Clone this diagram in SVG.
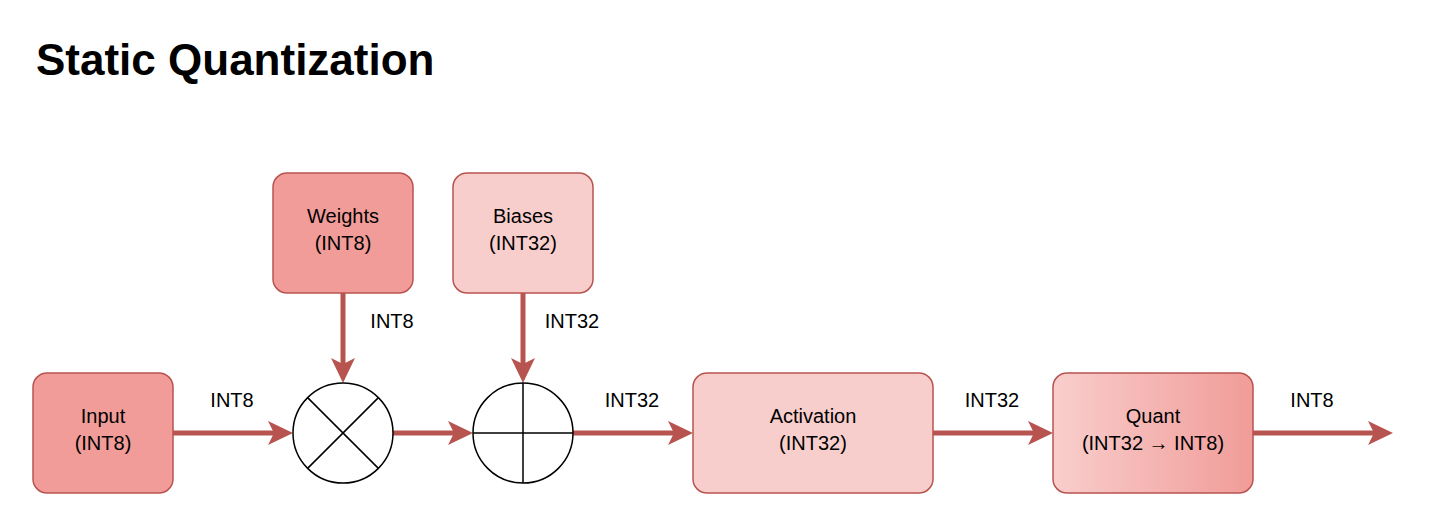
<svg xmlns="http://www.w3.org/2000/svg" width="1434" height="526" viewBox="0 0 1434 526">
<style>
text{font-family:"Liberation Sans",Arial,sans-serif;font-size:20px;fill:#000}
.box{stroke:#b85450;stroke-width:1.5}
.dark{fill:#f19c99}.light{fill:#f8cecc}
.edge{stroke:#b85450;stroke-width:5;fill:none}
.op{fill:#fff;stroke:#000;stroke-width:1.5}
</style>
<defs>
<marker id="ah" viewBox="0 0 10 10" refX="9" refY="5" markerWidth="5" markerHeight="5" markerUnits="userSpaceOnUse" orient="auto" style="overflow:visible">
<path d="M-2,-0.5 L22,5 L-2,10.5 L3,5 Z" fill="#b85450" transform="scale(1)"/>
</marker>
<linearGradient id="g" x1="0" x2="1" y1="0" y2="0"><stop offset="0" stop-color="#f8cecc"/><stop offset="1" stop-color="#f19c99"/></linearGradient>
</defs>
<text x="36" y="75" style="font-size:44px;font-weight:bold">Static Quantization</text>
<g id="connectors">
<path class="edge" d="M173,433 H276"/>
<path class="edge" d="M393,433 H456"/>
<path class="edge" d="M343,293 V366"/>
<path class="edge" d="M523,293 V366"/>
<path class="edge" d="M573,433 H676"/>
<path class="edge" d="M933,433 H1036"/>
<path class="edge" d="M1253,433 H1376"/>
<g fill="#b85450">
<path d="M293,433 L268,421 L274,433 L268,445 Z"/>
<path d="M473,433 L448,421 L454,433 L448,445 Z"/>
<path d="M693,433 L668,421 L674,433 L668,445 Z"/>
<path d="M1053,433 L1028,421 L1034,433 L1028,445 Z"/>
<path d="M1393,433 L1368,421 L1374,433 L1368,445 Z"/>
<path d="M343,383 L331,358 L343,364 L355,358 Z"/>
<path d="M523,383 L511,358 L523,364 L535,358 Z"/>
</g>
<text x="232" y="407" text-anchor="middle">INT8</text>
<text x="392" y="328" text-anchor="middle">INT8</text>
<text x="572" y="328" text-anchor="middle">INT32</text>
<text x="632" y="407" text-anchor="middle">INT32</text>
<text x="992" y="407" text-anchor="middle">INT32</text>
<text x="1312" y="407" text-anchor="middle">INT8</text>
</g>
<g id="input"><rect class="box dark" x="33" y="373" width="140" height="120" rx="14"/><text x="103" y="423" text-anchor="middle">Input</text><text x="103" y="450" text-anchor="middle">(INT8)</text></g>
<g id="weights"><rect class="box dark" x="273" y="173" width="140" height="120" rx="14"/><text x="343" y="223" text-anchor="middle">Weights</text><text x="343" y="250" text-anchor="middle">(INT8)</text></g>
<g id="biases"><rect class="box light" x="453" y="173" width="140" height="120" rx="14"/><text x="523" y="223" text-anchor="middle">Biases</text><text x="523" y="250" text-anchor="middle">(INT32)</text></g>
<g id="multiply"><circle class="op" cx="343" cy="433" r="50"/><path d="M307.6,397.6 L378.4,468.4 M378.4,397.6 L307.6,468.4" stroke="#000" stroke-width="1.5"/></g>
<g id="add"><circle class="op" cx="523" cy="433" r="50"/><path d="M473,433 H573 M523,383 V483" stroke="#000" stroke-width="1.5"/></g>
<g id="activation"><rect class="box light" x="693" y="373" width="240" height="120" rx="14"/><text x="813" y="423" text-anchor="middle">Activation</text><text x="813" y="450" text-anchor="middle">(INT32)</text></g>
<g id="quant"><rect class="box" fill="url(#g)" x="1053" y="373" width="200" height="120" rx="14"/><text x="1153" y="423" text-anchor="middle">Quant</text><text x="1153" y="450" text-anchor="middle">(INT32 → INT8)</text></g>
</svg>
